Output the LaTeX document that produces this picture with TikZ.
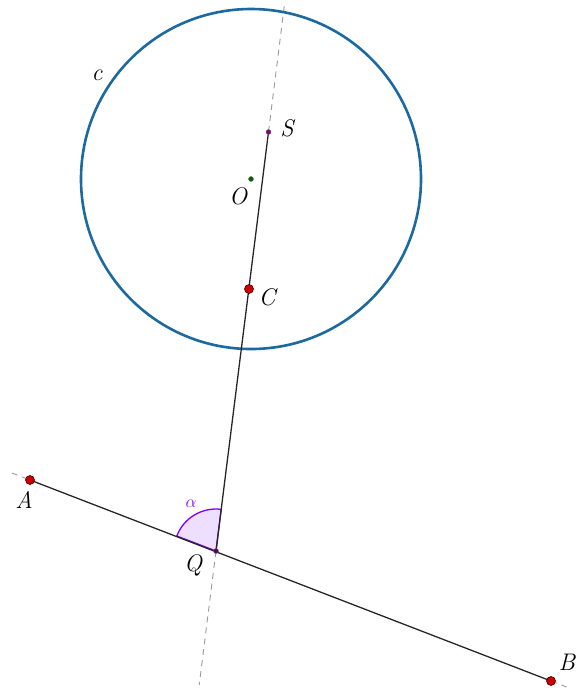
\documentclass[tikz,border=0pt]{standalone}
\usetikzlibrary{calc}
\definecolor{circblue}{RGB}{28,105,160}
\definecolor{ptred}{RGB}{204,0,0}
\definecolor{ptpurple}{RGB}{128,0,128}
\definecolor{ptgreen}{RGB}{0,100,0}
\definecolor{angviolet}{RGB}{127,0,255}
\begin{document}
\begin{tikzpicture}[x=1pt,y=-1pt,
  lbl/.style={font=\fontsize{24}{28}\selectfont\itshape, inner sep=0pt},
  bigpt/.style={circle, fill=ptred, draw=black!70!ptred, line width=0.6pt, minimum size=9pt, inner sep=0pt},
  smallpt/.style={circle, draw=black!60, line width=0.4pt, minimum size=5pt, inner sep=0pt},
  seg/.style={line width=1.3pt, black!85},
  aux/.style={gray!80, line width=0.9pt, dash pattern=on 6pt off 5pt}]
\useasboundingbox (0,0) rectangle (576,689);
% points
\coordinate (A) at (30,480);
\coordinate (B) at (551,681);
\coordinate (Q) at (216,551);
\coordinate (S) at (268.5,132);
\coordinate (C) at (249,289);
\coordinate (O) at (251,179);
% auxiliary dashed lines
\coordinate (ab1) at ($(A)!-0.035!(B)$);
\coordinate (ab2) at ($(A)!1.03!(B)$);
\coordinate (qs1) at ($(Q)!1.3!(S)$);
\coordinate (qs2) at ($(Q)!-0.32!(S)$);
\draw[aux] (ab1) -- (A);
\draw[aux] (B) -- (ab2);
\draw[aux] (S) -- (qs1);
\draw[aux] (Q) -- (qs2);
% circle
\draw[circblue, line width=2.6pt] (O) circle[radius=170];
% angle
\coordinate (a1) at ($(Q)!42pt!(A)$);
\fill[angviolet, fill opacity=0.13] (Q) -- (a1) arc[start angle=200.9, end angle=277.1, radius=42] -- cycle;
\draw[angviolet, line width=1.3pt] (Q) -- (a1) arc[start angle=200.9, end angle=277.1, radius=42] -- cycle;
% segments
\draw[seg] (A) -- (B);
\draw[seg] (Q) -- (S);
% point markers
\node[bigpt] (pA) at (A) {};
\node[bigpt] (pB) at (B) {};
\node[bigpt] (pC) at (C) {};
\node[smallpt, fill=ptpurple] (pS) at (S) {};
\node[smallpt, fill=ptgreen] (pO) at (O) {};
\node[smallpt, fill=ptpurple!70!black] (pQ) at (Q) {};
% labels
\node[lbl] (lA) at (24,500) {A};
\node[lbl] (lB) at (567,662) {B};
\node[lbl] (lC) at (267,297) {C};
\node[lbl] (lS) at (287,128) {S};
\node[lbl] (lO) at (238,196) {O};
\node[lbl] (lQ) at (193,565) {Q};
\node[lbl] (lc) at (97,75) {c};
\node[font=\fontsize{18}{20}\selectfont, text=angviolet, inner sep=0pt] (lalpha) at (191,504) {\(\alpha\)};
\end{tikzpicture}
\end{document}
